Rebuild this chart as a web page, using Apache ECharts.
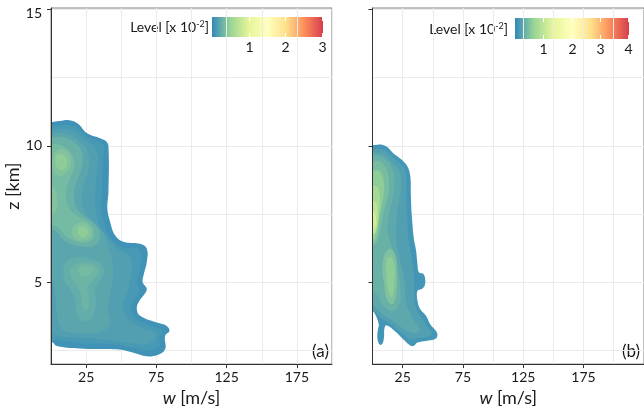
<!DOCTYPE html>
<html>
<head>
<meta charset="utf-8">
<script src="https://cdn.jsdelivr.net/npm/echarts@6/dist/echarts.min.js"></script>
<style>
  html, body { margin: 0; padding: 0; background: #fff; }
  #chart { width: 644px; height: 412px; }
</style>
</head>
<body>
<div id="chart"></div>
<script>
// axes
var wTicks = [25, 75, 125, 175];
var zTicks = [5, 10, 15];
var zGridLines = [2.5, 5, 7.5, 10, 12.5, 15];
var legendTicksA = [1, 2, 3];
var legendTicksB = [1, 2, 3, 4];
var levelMaxA = 3.03;
var levelMaxB = 4.03;
var spectral = ['#3288BD', '#99D594', '#E6F598', '#FFFFBF', '#FEE08B', '#FC8D59', '#D53E4F'];

// panel (a): density level [x 10^-2] of each filled contour, and its ring of [w, z]
var levelsA = [0.07, 0.11, 0.15, 0.2, 0.27, 0.24, 0.33, 0.29, 0.39, 0.39, 0.39, 0.33, 0.45, 0.45];
var ringsA = [
  [[-3,10.66],[8.8,10.93],[18.4,10.84],[25.5,10.47],[34.9,10.28],[39.2,10.17],[40.9,9.98],[40.9,8.32],[40.1,7.7],[42.1,7.21],[45.6,6.72],[51.5,6.48],[63.4,6.41],[68.2,6.23],[68.2,5.74],[65.8,5.24],[65.3,5.0],[68.2,4.75],[65.8,4.51],[62.2,4.26],[61.1,4.01],[63.4,3.77],[75.3,3.52],[82.4,3.4],[84.3,3.21],[81.2,3.03],[81.2,2.54],[75.3,2.32],[68.2,2.29],[58.6,2.42],[46.8,2.54],[23.1,2.56],[4.1,2.66],[1.3,2.79],[-3,2.9]],
  [[-3,10.55],[8.6,10.77],[17.9,10.69],[25.0,10.36],[34.2,10.14],[37.8,10.0],[37.1,9.55],[36.4,8.33],[35.7,7.7],[37.8,7.19],[42.1,6.67],[50.6,6.3],[61.3,6.23],[64.1,6.04],[64.1,5.71],[62.0,5.23],[61.3,4.98],[63.4,4.71],[61.3,4.46],[57.7,4.24],[57.0,3.98],[59.9,3.68],[72.0,3.39],[78.4,3.28],[79.1,3.13],[77.0,2.95],[77.0,2.65],[70.5,2.5],[58.4,2.61],[45.6,2.72],[22.8,2.76],[4.3,2.87],[-3,2.98]],
  [[-3,10.4],[7.9,10.62],[17.2,10.51],[24.3,10.21],[31.4,9.92],[33.5,9.55],[32.1,8.81],[31.4,8.07],[32.1,7.52],[34.9,7.04],[40.6,6.6],[49.2,6.16],[56.3,5.93],[57.7,5.56],[56.3,5.12],[54.9,4.68],[52.0,4.31],[52.0,3.9],[56.3,3.57],[67.0,3.28],[74.1,3.17],[74.1,2.91],[67.0,2.72],[52.7,2.8],[34.9,2.91],[13.6,2.98],[2.9,3.06],[-3,3.17]],
  [[-3,10.29],[6.5,10.47],[15.0,10.36],[22.1,10.07],[26.4,9.73],[27.1,9.18],[23.6,8.63],[22.1,8.07],[24.3,7.52],[31.4,7.15],[37.8,6.78],[40.6,6.3],[43.5,5.79],[44.2,5.2],[42.1,4.57],[40.6,4.01],[42.1,3.46],[34.9,3.17],[20.7,3.13],[7.9,3.28],[4.3,3.83],[2.9,4.57],[0.8,5.05],[-3,5.12]],
  [[-3,10.18],[5.1,10.33],[13.6,10.21],[20.7,9.92],[22.8,9.48],[20.7,9.0],[17.2,8.52],[16.4,8.07],[19.3,7.63],[26.4,7.34],[32.8,7.04],[34.9,6.67],[32.1,6.38],[24.3,6.3],[15.0,6.38],[7.9,6.6],[2.9,6.89],[-3,7.04]],
  [[10.0,5.68],[17.2,5.9],[27.8,5.86],[34.9,5.71],[37.8,5.42],[34.9,5.05],[31.4,4.75],[32.1,4.2],[29.3,3.72],[23.6,3.57],[18.6,3.83],[17.2,4.38],[13.6,4.75],[9.3,5.12]],
  [[-3,10.0],[3.6,10.07],[10.7,9.92],[15.7,9.62],[16.4,9.18],[12.9,8.74],[10.7,8.26],[12.2,7.78],[17.2,7.48],[25.0,7.26],[30.0,6.97],[30.0,6.6],[24.3,6.45],[16.4,6.52],[9.3,6.75],[4.3,7.04],[-3,7.19]],
  [[15.0,5.56],[22.1,5.71],[30.7,5.64],[34.2,5.42],[30.7,5.12],[26.4,4.83],[27.1,4.31],[25.0,3.94],[22.1,4.16],[20.7,4.68],[16.4,5.01],[13.6,5.27]],
  [[2.2,9.73],[7.9,9.88],[13.6,9.66],[13.6,9.25],[10.0,8.96],[4.3,8.92],[0.8,9.18],[0.8,9.55]],
  [[-3,8.63],[2.2,8.45],[4.3,8.07],[3.6,7.63],[-0.6,7.41],[-3,7.41]],
  [[17.2,7.12],[23.6,7.19],[28.5,6.97],[27.8,6.63],[22.1,6.52],[16.4,6.63],[15.0,6.89]],
  [[19.3,5.49],[25.7,5.6],[30.7,5.49],[27.8,5.27],[21.4,5.23]],
  [[3.6,9.62],[7.9,9.7],[11.5,9.51],[10.7,9.22],[6.5,9.11],[3.6,9.29]],
  [[19.3,7.0],[23.6,7.04],[26.4,6.86],[24.3,6.67],[20.0,6.71]]
];

// panel (b)
var levelsB = [0.12, 0.2, 0.28, 0.36, 0.46, 0.5, 0.6, 0.6, 0.78, 0.98, 1.18];
var ringsB = [
  [[-3,9.92],[4.2,10.04],[11.3,9.98],[17.2,9.73],[24.3,9.49],[29.0,9.24],[31.4,8.87],[31.8,8.2],[32.6,7.46],[34.3,6.6],[36.1,6.17],[37.3,5.68],[38.5,5.37],[42.1,5.31],[43.7,5.12],[43.2,4.87],[40.9,4.75],[37.3,4.69],[37.3,4.32],[39.6,4.01],[44.4,3.77],[47.9,3.46],[52.7,3.21],[53.8,3.03],[51.5,2.91],[44.4,2.85],[37.3,2.79],[33.8,2.66],[30.2,2.72],[25.5,2.91],[18.4,3.21],[11.5,3.42],[9.8,3.28],[9.6,3.02],[8.6,2.78],[6.8,2.7],[4.9,2.78],[4.0,3.02],[4.6,3.3],[5.2,3.45],[2.5,3.8],[-3,4.2]],
  [[-3,9.77],[4.7,9.88],[11.1,9.81],[16.7,9.59],[23.1,9.33],[26.7,9.11],[28.1,8.74],[28.1,8.07],[28.8,7.34],[30.2,6.52],[32.3,5.93],[33.8,5.49],[34.5,5.05],[34.5,4.46],[36.6,4.01],[41.6,3.65],[46.0,3.35],[49.4,3.13],[44.6,2.98],[36.6,2.95],[30.9,2.91],[25.2,3.09],[18.2,3.35],[11.1,3.58],[5.4,3.75],[-3,4.3]],
  [[-3,9.66],[5.4,9.73],[11.1,9.62],[16.7,9.37],[21.7,9.11],[23.8,8.74],[22.4,8.07],[20.3,7.45],[19.6,6.6],[23.1,5.79],[26.7,5.01],[28.1,4.2],[33.8,3.65],[39.4,3.24],[33.8,3.13],[23.8,3.35],[14.6,3.65],[5.4,3.94],[-3,4.53]],
  [[-3,9.55],[5.4,9.62],[11.1,9.48],[16.0,9.18],[18.2,8.74],[16.7,8.07],[13.9,7.52],[12.5,6.89],[16.7,6.23],[21.0,5.56],[23.1,4.75],[22.4,4.2],[16.7,3.94],[8.9,4.16],[4.0,4.53],[-3,4.83]],
  [[-3,9.25],[4.7,9.44],[9.6,9.29],[13.2,8.89],[13.2,8.26],[9.6,7.63],[6.8,7.04],[4.0,6.52],[-3,6.23]],
  [[10.4,6.04],[14.6,6.23],[18.9,6.0],[20.3,5.31],[19.6,4.57],[16.7,4.2],[11.8,4.38],[9.6,4.94],[8.2,5.56]],
  [[-3,8.89],[4.0,9.11],[8.2,8.89],[9.6,8.37],[7.5,7.78],[4.7,7.15],[2.6,6.6],[-3,6.38]],
  [[11.8,5.79],[15.3,5.93],[18.2,5.64],[18.2,4.94],[16.0,4.46],[13.2,4.64],[11.8,5.2]],
  [[-3,8.45],[3.3,8.52],[6.1,8.15],[5.4,7.52],[3.3,6.89],[-3,6.6]],
  [[-3,7.96],[2.8,7.92],[4.2,7.41],[2.2,6.86],[-3,6.72]],
  [[-3,7.63],[2.0,7.52],[2.2,7.04],[-3,6.86]]
];

var font = 'Lato, "Open Sans", sans-serif';
var ink = '#1a1a1a';

function contourSeries(levels, rings, idx) {
  return {
    type: 'custom',
    xAxisIndex: idx * 2,
    yAxisIndex: idx * 2,
    silent: true,
    data: levels.map(function (lv, i) { return [lv, i]; }),
    renderItem: function (params, api) {
      var ring = rings[api.value(1)];
      var cs = params.coordSys;
      return {
        type: 'polygon',
        shape: { points: ring.map(function (p) { return api.coord(p); }), smooth: 0.4 },
        style: { fill: api.visual('color') },
        clipPath: { type: 'rect', shape: { x: cs.x, y: cs.y, width: cs.width, height: cs.height } }
      };
    }
  };
}

function xAxes(grid, max) {
  return [{
    gridIndex: grid, type: 'value', min: 0, max: max, position: 'bottom', z: 5,
    name: '{it|w} [m/s]', nameLocation: 'middle', nameGap: 22,
    nameTextStyle: { fontFamily: font, fontSize: 18, color: ink,
      rich: { it: { fontFamily: font, fontSize: 18, color: ink, fontStyle: 'italic' } } },
    axisLine: { lineStyle: { color: '#333', width: 1 } },
    axisTick: { customValues: wTicks, length: 4, lineStyle: { color: '#333' } },
    axisLabel: { customValues: wTicks, margin: 6, fontFamily: font, fontSize: 14, color: ink },
    splitLine: { show: false }
  }, {
    gridIndex: grid, type: 'value', min: 0, max: max, interval: 25, position: 'top',
    axisLine: { show: false }, axisTick: { show: false }, axisLabel: { show: false },
    splitLine: { show: true, lineStyle: { color: '#ebebeb', width: 1 } }
  }];
}

function yAxes(grid, withLabels) {
  return [{
    gridIndex: grid, type: 'value', min: 2, max: 15.05, position: 'left', z: 5,
    name: withLabels ? 'z [km]' : '', nameLocation: 'middle', nameGap: 25,
    nameTextStyle: { fontFamily: font, fontSize: 18, color: ink },
    axisLine: { show: true, lineStyle: { color: '#333', width: 1 } },
    axisTick: { show: true, customValues: zTicks, length: 4, lineStyle: { color: '#333' } },
    axisLabel: {
      show: withLabels, customValues: zTicks, margin: 9, fontFamily: font, fontSize: 14, color: ink,
      formatter: function (v) { return v === 15 ? '{top|15}' : String(v); },
      rich: { top: { fontFamily: font, fontSize: 14, color: ink, padding: [8, 0, 0, 0] } }
    },
    splitLine: { show: false }
  }, {
    gridIndex: grid, type: 'value', min: 2, max: 15.05, position: 'right',
    axisLine: { show: false }, axisLabel: { show: false },
    axisTick: { show: false, customValues: zGridLines },
    splitLine: { show: true, lineStyle: { color: '#ebebeb', width: 1 } }
  }];
}

function colourBar(x0, y0, w, h, max, ticks, textRight, textY) {
  var els = [{
    type: 'text', x: textRight, y: textY,
    style: { text: 'Level [x 10{sup|-2}]', align: 'right', verticalAlign: 'middle',
      fontFamily: font, fontSize: 14, fill: ink,
      rich: { sup: { fontFamily: font, fontSize: 9, fill: ink, verticalAlign: 'top' } } }
  }, {
    type: 'rect', shape: { x: x0, y: y0, width: w, height: h },
    style: { fill: { type: 'linear', x: 0, y: 0, x2: 1, y2: 0,
      colorStops: spectral.map(function (c, i) { return { offset: i / (spectral.length - 1), color: c }; }) } }
  }];
  ticks.forEach(function (t) {
    var x = Math.round(x0 + t / max * w) + 0.5;
    els.push({ type: 'line', shape: { x1: x, y1: y0, x2: x, y2: y0 + 4 }, style: { stroke: '#fff', lineWidth: 1 } });
    els.push({ type: 'line', shape: { x1: x, y1: y0 + h - 4, x2: x, y2: y0 + h }, style: { stroke: '#fff', lineWidth: 1 } });
    els.push({ type: 'text', x: x, y: y0 + h + 10,
      style: { text: String(t), align: 'center', verticalAlign: 'middle', fontFamily: font, fontSize: 14, fill: ink } });
  });
  return els;
}

var chart = echarts.init(document.getElementById('chart'));
chart.setOption({
  animation: false,
  backgroundColor: '#fff',
  grid: [
    { left: 51, top: 8, width: 281, height: 358, show: true, borderColor: '#808080', borderWidth: 1 },
    { left: 372.5, top: 8, width: 317.5, height: 358, show: true, borderColor: '#808080', borderWidth: 1 }
  ],
  xAxis: xAxes(0, 200).concat(xAxes(1, 225.2)),
  yAxis: yAxes(0, true).concat(yAxes(1, false)),
  visualMap: [
    { type: 'continuous', show: false, seriesIndex: 0, dimension: 0, min: 0, max: levelMaxA, inRange: { color: spectral } },
    { type: 'continuous', show: false, seriesIndex: 1, dimension: 0, min: 0, max: levelMaxB, inRange: { color: spectral } }
  ],
  series: [contourSeries(levelsA, ringsA, 0), contourSeries(levelsB, ringsB, 1)],
  graphic: colourBar(212, 17, 111, 20, levelMaxA, legendTicksA, 209, 27)
    .concat(colourBar(515, 18, 114, 21, levelMaxB, legendTicksB, 508, 29))
    .concat([
      { type: 'text', x: 329, y: 352, style: { text: '(a)', align: 'right', verticalAlign: 'middle', fontFamily: font, fontSize: 17, fontStyle: 'normal', fill: ink } },
      { type: 'text', x: 622, y: 352, style: { text: '(b)', align: 'left', verticalAlign: 'middle', fontFamily: font, fontSize: 17, fontStyle: 'normal', fill: ink } }
    ])
});
</script>
</body>
</html>
